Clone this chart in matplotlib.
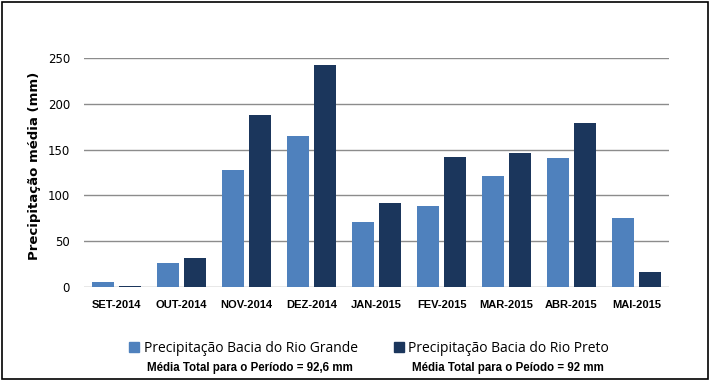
import matplotlib.pyplot as plt
from matplotlib.patches import Rectangle, Patch
import numpy as np

## Data

meses = ['SET-2014', 'OUT-2014', 'NOV-2014', 'DEZ-2014', 'JAN-2015',
         'FEV-2015', 'MAR-2015', 'ABR-2015', 'MAI-2015']
rio_grande = [5.5, 26, 128, 165, 71, 88.5, 121, 141, 75]
rio_preto = [1.5, 32, 188, 242, 92, 142, 146, 179, 16]
yticks = [0, 50, 100, 150, 200, 250]

nome_grande = 'Precipitação Bacia do Rio Grande'
nome_preto = 'Precipitação Bacia do Rio Preto'
media_grande = 'Média Total para o Período = 92,6 mm'
media_preto = 'Média Total para o Peíodo = 92 mm'

c_grande = '#4F81BD'
c_preto = '#1B365C'

## Plotting

W, H = 716, 384
fig = plt.figure(figsize=(W/100, H/100), dpi=100)
ax = fig.add_axes([84/W, 1-287/H, 585/W, 229/H])

x = np.arange(len(meses))
bw = 0.34
ax.bar(x - 0.21, rio_grande, bw, color=c_grande, zorder=3)
ax.bar(x + 0.21, rio_preto, bw, color=c_preto, zorder=3)

ax.set_xlim(-0.5, len(meses) - 0.5)
ax.set_ylim(0, 250)
ax.set_yticks(yticks)
ax.set_yticklabels([str(v) for v in yticks], fontsize=8.5, family='DejaVu Sans')
ax.set_xticks(x)
ax.set_xticklabels(meses, fontsize=8, fontweight='bold', family='Liberation Sans')
ax.tick_params(length=0)
ax.tick_params(axis='x', pad=9)
ax.tick_params(axis='y', pad=10)
ax.grid(axis='y', color='#8c8c8c', lw=1, zorder=0)
for s in ax.spines.values():
    s.set_visible(False)
ax.set_ylabel('Precipitação média (mm)', fontsize=9.5, fontweight='bold',
              family='DejaVu Sans', labelpad=10)
ax.yaxis.set_label_coords(-0.073, 0.53)

handles = [Patch(color=c_grande, label=nome_grande),
           Patch(color=c_preto, label=nome_preto)]
fig.legend(handles=handles, loc='center', bbox_to_anchor=(369/W, 1-348/H),
           ncol=2, frameon=False, prop={'family': 'Open Sans', 'size': 10},
           handlelength=0.75, handleheight=0.75, handletextpad=0.3,
           columnspacing=2.6)

fig.text(250/W, 1-368/H, media_grande, ha='center', va='center',
         fontsize=8.3, fontweight='bold', family='Liberation Sans')
fig.text(508/W, 1-368/H, media_preto, ha='center', va='center',
         fontsize=8.3, fontweight='bold', family='Liberation Sans')

fig.patches.append(Rectangle((2/W, 1-379/H), 706/W, 377/H, fill=False,
                             ec='black', lw=1.2, transform=fig.transFigure))

fig.savefig('out.png', dpi=100)
